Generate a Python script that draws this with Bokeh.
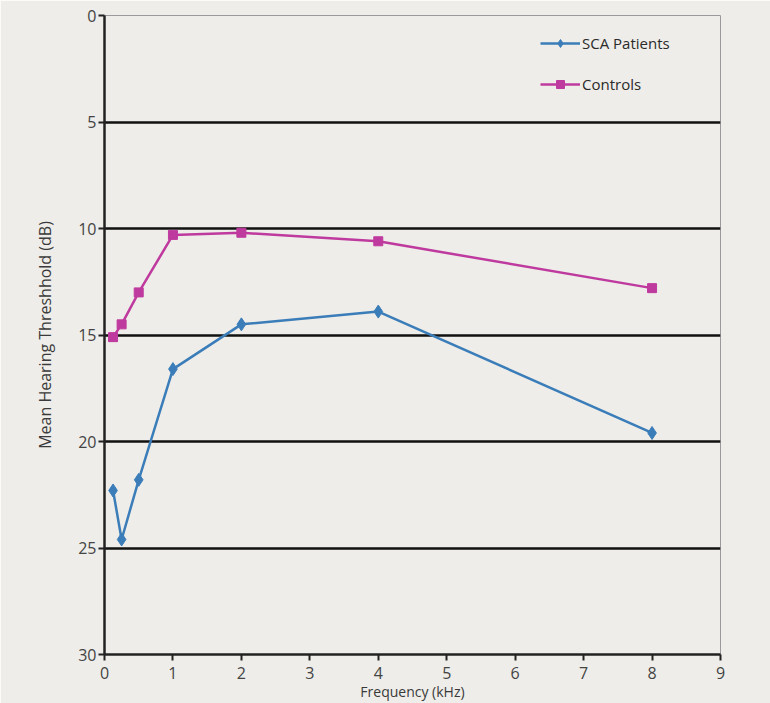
from bokeh.plotting import figure
from bokeh.models import Range1d, FixedTicker, Legend, LegendItem
from bokeh.embed import file_html
from bokeh.resources import INLINE

freq = [0.125, 0.25, 0.5, 1, 2, 4, 8]
sca_patients = [22.3, 24.6, 21.8, 16.6, 14.5, 13.9, 19.6]
controls = [15.1, 14.5, 13.0, 10.3, 10.2, 10.6, 12.8]
x_ticks = [0, 1, 2, 3, 4, 5, 6, 7, 8, 9]
y_ticks = [0, 5, 10, 15, 20, 25, 30]

FONT = "Open Sans"
BG = "#eeede9"
BLUE = "#3a7db9"
MAGENTA = "#bf3a9e"

p = figure(width=770, height=703, output_backend="svg", toolbar_location=None,
           x_range=Range1d(0, 9), y_range=Range1d(30, 0),
           min_border_left=104, min_border_right=50, min_border_top=15, min_border_bottom=47)
p.background_fill_color = BG
p.border_fill_color = BG
p.outline_line_color = "#9a9a9a"
p.outline_line_width = 1

p.xgrid.grid_line_color = None
p.ygrid.grid_line_color = "#111111"
p.ygrid.grid_line_width = 2.5
p.ygrid.ticker = FixedTicker(ticks=[5, 10, 15, 20, 25])

p.xaxis.ticker = FixedTicker(ticks=x_ticks)
p.yaxis.ticker = FixedTicker(ticks=y_ticks)
for ax in (p.xaxis[0], p.yaxis[0]):
    ax.axis_line_color = "#222222"
    ax.axis_line_width = 2.5
    ax.major_tick_line_color = "#222222"
    ax.major_tick_line_width = 2
    ax.major_tick_out = 6
    ax.major_tick_in = 0
    ax.minor_tick_line_color = None
    ax.major_label_text_font = FONT
    ax.major_label_text_font_size = "16px"
    ax.major_label_text_color = "#444444"
    ax.axis_label_text_font = FONT
    ax.axis_label_text_font_style = "normal"
    ax.axis_label_text_color = "#3a3a3a"
p.xaxis.major_label_standoff = 6
p.yaxis.major_label_standoff = 2
p.xaxis.axis_label = "Frequency (kHz)"
p.yaxis.axis_label = "Mean Hearing Threshhold (dB)"
p.xaxis.axis_label_text_font_size = "14px"
p.yaxis.axis_label_text_font_size = "16px"
p.xaxis.axis_label_standoff = 0
p.yaxis.axis_label_standoff = 19

l1 = p.line(freq, sca_patients, line_color=BLUE, line_width=2.5)
s1 = p.scatter(freq, sca_patients, marker="diamond", size=13, fill_color=BLUE, line_color=BLUE)
l2 = p.line(freq, controls, line_color=MAGENTA, line_width=2.5)
s2 = p.scatter(freq, controls, marker="square", size=9, fill_color=MAGENTA, line_color=MAGENTA)

legend = Legend(items=[LegendItem(label="SCA Patients", renderers=[l1, s1]),
                       LegendItem(label="Controls", renderers=[l2, s2])],
                location=(436, 560))
legend.background_fill_alpha = 0
legend.border_line_color = None
legend.glyph_width = 40
legend.glyph_height = 20
legend.label_height = 20
legend.spacing = 21
legend.padding = 5
legend.label_standoff = 2
legend.label_text_font = FONT
legend.label_text_font_size = "15px"
legend.label_text_color = "#2a2a2a"
p.add_layout(legend)

open("out.html", "w").write(file_html(p, INLINE))
